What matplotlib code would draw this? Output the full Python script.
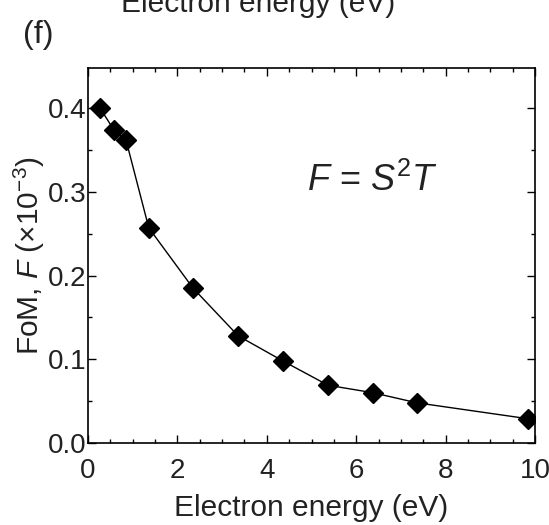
import matplotlib
matplotlib.use("Agg")
import matplotlib.pyplot as plt
from matplotlib.ticker import MultipleLocator

plt.rcParams['font.family'] = ['Liberation Sans', 'DejaVu Sans']
plt.rcParams['mathtext.fontset'] = 'custom'
plt.rcParams['mathtext.rm'] = 'Liberation Sans'
plt.rcParams['mathtext.it'] = 'Liberation Sans:italic'

energy = [0.27, 0.58, 0.85, 1.36, 2.35, 3.36, 4.36, 5.37, 6.38, 7.36, 9.84]
fom = [0.400, 0.374, 0.362, 0.257, 0.185, 0.128, 0.098, 0.069, 0.060, 0.048, 0.029]

fig = plt.figure(figsize=(5.49, 5.25), dpi=100)
ax = fig.add_axes([88/549, 1-443/525, (535-88)/549, (443-68)/525])
ax.plot(energy, fom, '-', color='black', lw=1.0, marker='D', ms=10, mfc='black', mec='black')
ax.set_xlim(0, 10)
ax.set_ylim(0, 0.448)
ax.xaxis.set_major_locator(MultipleLocator(2))
ax.xaxis.set_minor_locator(MultipleLocator(0.5))
ax.yaxis.set_minor_locator(MultipleLocator(0.05))
ax.set_yticks([0, 0.1, 0.2, 0.3, 0.4])
ax.set_yticklabels(['0.0', '0.1', '0.2', '0.3', '0.4'])
ax.tick_params(which='both', direction='in', top=True, right=True, labelsize=20, width=1.0,
               colors='black', labelcolor='#222222')
ax.tick_params(axis='y', pad=1)
ax.tick_params(axis='x', pad=11)
ax.tick_params(which='major', length=6)
ax.tick_params(which='minor', length=3)
for s in ax.spines.values():
    s.set_linewidth(1.2)
ax.set_xlabel('Electron energy (eV)', fontsize=21.5, labelpad=7, color='#222222')
ax.set_ylabel(r'FoM, $\it{F}$ (×10$^{-3}$)', fontsize=21.5, labelpad=1, color='#222222')
ax.text(0.49, 0.70, r'$\it{F}$ = $\it{S}^{2}\it{T}$', transform=ax.transAxes, fontsize=26,
        ha='left', va='center', color='#222222')
fig.text(258/549, 1-12/525, 'Electron energy (eV)', fontsize=21.5, ha='center', va='baseline', color='#222222')
fig.text(23/549, 1-35/525, '(f)', fontsize=23, ha='left', va='center', color='#222222')
fig.savefig('out.png', dpi=100)
